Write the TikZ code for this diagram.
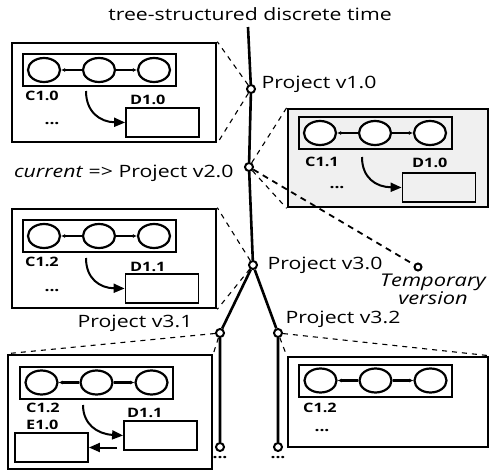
\documentclass[tikz,border=0pt]{standalone}
\usepackage{fontspec}
\setmainfont{Open Sans}[FakeStretch=1.25]
\usetikzlibrary{shapes.geometric}
\usetikzlibrary{arrows.meta}

\begin{document}
\begin{tikzpicture}[x=1pt,y=1pt,yscale=-1,
  every node/.style={font=\fontsize{17}{18}\selectfont},
  vbox/.style={draw,line width=2.6pt,inner sep=0pt},
  chainbox/.style={draw,line width=2pt,minimum width=153pt,minimum height=32pt,inner sep=0pt},
  oval/.style={ellipse,draw,line width=2.2pt,fill=white,minimum width=32pt,minimum height=24pt,inner sep=0pt},
  lab/.style={anchor=west,inner sep=0pt,font=\fontsize{13}{15}\selectfont\bfseries},
  dots/.style={inner sep=0pt,font=\fontsize{14}{15}\selectfont\bfseries},
  dbox/.style={draw,line width=1.8pt,minimum width=73pt,minimum height=29pt,inner sep=0pt},
  tick/.style={circle,draw,line width=2pt,fill=white,minimum size=8pt,inner sep=0pt},
  trunk/.style={line width=2.6pt},
  link/.style={dash pattern=on 5pt off 5pt,line width=1.1pt},
  chainarr/.style={line width=2.4pt,-{Latex[length=4pt,width=4pt]}},
  curvearr/.style={line width=2pt,-{Triangle[length=11pt,width=9pt]}}
]
\useasboundingbox (0,0) rectangle (491,471);

% Title
\node (title) at (250,14) {tree-structured discrete time};

% Version boxes
\node[vbox,minimum width=204pt,minimum height=99pt] (b1) at (114,92.5) {};
\node[vbox,fill=gray!12,minimum width=200pt,minimum height=98pt] (b2) at (388,158) {};
\node[vbox,minimum width=204pt,minimum height=99pt] (b3) at (114,258.5) {};
\node[vbox,minimum width=204pt,minimum height=114pt] (b4) at (110,412) {};
\node[vbox,minimum width=200pt,minimum height=90pt] (b5) at (388,402) {};

% Chains
\foreach \c/\x/\y in {c1/99/70, c2/375/133, c3/99/236, c4/96.5/382.5, c5/375.5/380.5} {
  \node[chainbox] (\c) at (\x,\y) {};
  \node[oval] (\c-a) at (\x-55,\y) {};
  \node[oval] (\c-b) at (\x,\y) {};
  \node[oval] (\c-c) at (\x+55,\y) {};
  \draw[chainarr] (\c-b) -- (\c-a);
  \draw[chainarr] (\c-b) -- (\c-c);
}

% Box labels
\node[lab] (t1c) at (25,96) {C1.0};
\node[lab] (t1d) at (130,100) {D1.0};
\node[lab] (t2c) at (305,162) {C1.1};
\node[lab] (t2d) at (412,163) {D1.0};
\node[lab] (t3c) at (25,262) {C1.2};
\node[lab] (t3d) at (130,267) {D1.1};
\node[lab] (t4c) at (26,408) {C1.2};
\node[lab] (t4e) at (26,425) {E1.0};
\node[lab] (t4d) at (127,413) {D1.1};
\node[lab] (t5c) at (303,408) {C1.2};

\node[dots] (p1) at (52,124) {...};
\node[dots] (p2) at (337,188) {...};
\node[dots] (p3) at (52,291) {...};
\node[dots] (p5) at (322,431) {...};

% Data boxes
\node[dbox] (d1) at (162.5,122.5) {};
\node[dbox] (d2) at (439,187.5) {};
\node[dbox] (d3) at (162,288.5) {};
\node[dbox] (d4) at (160.5,435.5) {};
\node[dbox] (e4) at (51.5,447.5) {};

% Curved arrows
\coordinate (s1) at (86,91);
\coordinate (s2) at (362,157);
\coordinate (s3) at (86,258);
\coordinate (s4) at (83,405);
\draw[curvearr] (s1) .. controls (86,112) and (100,122) .. (d1.west);
\draw[curvearr] (s2) .. controls (362,178) and (376,187) .. (d2.west);
\draw[curvearr] (s3) .. controls (86,279) and (100,288) .. (d3.west);
\draw[curvearr] (s4) .. controls (83,424) and (97,434) .. (d4.west);
\draw[curvearr,shorten <=6pt] (d4.west |- e4.east) -- (e4.east);

% Time line
\coordinate (top) at (248,27);
\node[tick] (n1) at (251,89) {};
\node[tick] (n2) at (249,167) {};
\node[tick] (n3) at (253,265) {};
\node[tick] (n31) at (220,333) {};
\node[tick] (n32) at (278,333) {};
\node[tick] (e31) at (220,447) {};
\node[tick] (e32) at (278,447) {};
\node[tick,minimum size=7pt] (tmp) at (418,267) {};

\draw[trunk] (top) -- (n1) -- (n2) -- (n3);
\draw[trunk] (n3) -- (n31) -- (e31);
\draw[trunk] (n3) -- (n32) -- (e32);

% Dashed links
\draw[link] (n1) -- (b1.north east);
\draw[link] (n1) -- (b1.south east);
\draw[link] (n2) -- (b2.north west);
\draw[link] (n2) -- (b2.south west);
\draw[link,line width=1.8pt,dash pattern=on 6pt off 5pt] (n2) -- (tmp);
\draw[link] (n3) -- (b3.north east);
\draw[link] (n3) -- (b3.south east);
\draw[link] (n31) -- (b4.north west);
\draw[link] (n31) -- (b4.north east);
\draw[link] (n32) -- (b5.north west);
\draw[link] (n32) -- (b5.north east);

% Version labels
\node[anchor=west] (l1) at (258,84) {Project v1.0};
\node[anchor=east] (l2) at (237,173) {\textit{current} => Project v2.0};
\node[anchor=west] (l3) at (264,265) {Project v3.0};
\node[align=center,font=\fontsize{17.5}{17}\selectfont\itshape] (l4) at (433,289) {Temporary\\version};
\node[anchor=east] (l31) at (196,323) {Project v3.1};
\node[anchor=west] (l32) at (282,319) {Project v3.2};
\node[dots] (q31) at (220,458) {...};
\node[dots] (q32) at (278,458) {...};

\end{tikzpicture}
\end{document}
